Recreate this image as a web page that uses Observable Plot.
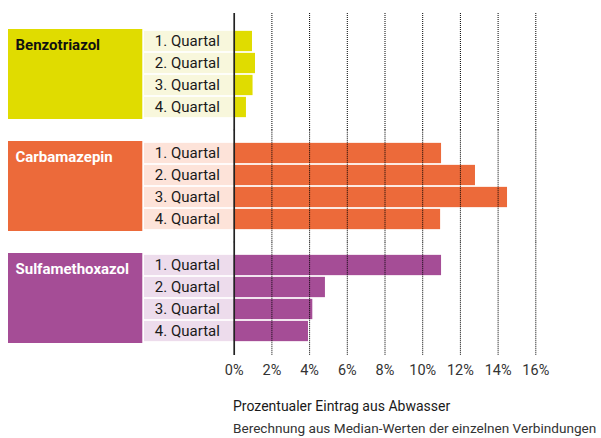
<!DOCTYPE html>
<html>
<head>
<meta charset="utf-8">
<script src="https://cdn.jsdelivr.net/npm/d3@7"></script>
<script src="https://cdn.jsdelivr.net/npm/@observablehq/plot@0.6"></script>
<style>
  html, body { margin: 0; padding: 0; background: #fff; }
  #wrap { position: relative; width: 601px; height: 438px; font-family: Roboto, "Open Sans", sans-serif; }
  #title { position: absolute; left: 233px; top: 398px; font-size: 14px; color: #1a1a1a; white-space: nowrap; }
  #subtitle { position: absolute; left: 233px; top: 420px; font-size: 13.6px; color: #333; white-space: nowrap; }
</style>
</head>
<body>
<div id="wrap">
  <div id="chart"></div>
  <div id="title">Prozentualer Eintrag aus Abwasser</div>
  <div id="subtitle">Berechnung aus Median-Werten der einzelnen Verbindungen</div>
</div>
<script>
// ---- data ----
const substances = ["Benzotriazol", "Carbamazepin", "Sulfamethoxazol"];
const quartals = ["1. Quartal", "2. Quartal", "3. Quartal", "4. Quartal"];
const benzotriazol = [0.97, 1.13, 1.0, 0.65];
const carbamazepin = [11.0, 12.8, 14.5, 10.95];
const sulfamethoxazol = [11.0, 4.84, 4.17, 3.94];
const xTicks = [0, 2, 4, 6, 8, 10, 12, 14, 16];

// ---- styles ----
const darkColors = {Benzotriazol: "#e0dc00", Carbamazepin: "#ec6a3a", Sulfamethoxazol: "#a54d96"};
const lightColors = {Benzotriazol: "#f8f7dc", Carbamazepin: "#fde3d9", Sulfamethoxazol: "#eddcec"};
const labelColors = {Benzotriazol: "#111", Carbamazepin: "#fff", Sulfamethoxazol: "#fff"};

const seriesValues = {Benzotriazol: benzotriazol, Carbamazepin: carbamazepin, Sulfamethoxazol: sulfamethoxazol};
const rows = substances.flatMap(s => quartals.map((q, i) => ({substance: s, quartal: q, value: seriesValues[s][i]})));
const groups = substances.map(s => ({substance: s}));
const gridRows = substances.flatMap(s => xTicks.map(t => ({substance: s, tick: t})));

const W = 601, H = 385;
const mLeft = 233.7, mRight = 65.7, mTop = 28, mBottom = 42;
const frameW = W - mLeft - mRight;
const labelColW = 89.7;        // quartal label column width (left of zero line)
const groupLeft = 8, groupRight = 142.3;
const halfGap = 11.25;

function gridFor(sub, top, bottom) {
  const data = gridRows.filter(d => d.substance === sub);
  return [
    Plot.ruleX(data.filter(d => d.tick > 0), {
      fy: "substance", x: "tick",
      stroke: "#000", strokeWidth: 1, strokeDasharray: "1,1",
      insetTop: -top, insetBottom: -bottom
    }),
    Plot.ruleX(data.filter(d => d.tick === 0), {
      fy: "substance", x: "tick",
      stroke: "#222", strokeWidth: 1.7,
      insetTop: -top, insetBottom: -bottom
    })
  ];
}

const chart = Plot.plot({
  width: W,
  height: H,
  marginLeft: mLeft,
  marginRight: mRight,
  marginTop: mTop,
  marginBottom: mBottom,
  style: {fontFamily: "Roboto, 'Open Sans', sans-serif", fontSize: "14px", background: "#fff", overflow: "visible"},
  x: {domain: [0, 16], label: null},
  y: {domain: quartals, padding: 0, axis: null},
  fy: {domain: substances, paddingInner: 0.2, paddingOuter: 0, axis: null, label: null},
  marks: [
    // group label boxes
    Plot.rect(groups, {
      fy: "substance",
      fill: d => darkColors[d.substance],
      insetLeft: -(mLeft - groupLeft),
      insetRight: frameW + (mLeft - groupRight)
    }),
    // quartal label backgrounds
    Plot.barX(rows, {
      fy: "substance", y: "quartal",
      x1: 0, x2: 0,
      fill: d => lightColors[d.substance],
      insetLeft: -labelColW,
      insetTop: 0.85, insetBottom: 0.85
    }),
    // value bars
    Plot.barX(rows, {
      fy: "substance", y: "quartal", x: "value",
      fill: d => darkColors[d.substance],
      insetTop: 0.85, insetBottom: 0.85
    }),
    // dotted grid + zero line, extended through the gaps between groups
    ...gridFor("Benzotriazol", 16, halfGap),
    ...gridFor("Carbamazepin", halfGap, halfGap),
    ...gridFor("Sulfamethoxazol", halfGap, 12),
    // quartal labels
    Plot.text(rows, {
      fy: "substance", y: "quartal",
      text: "quartal",
      frameAnchor: "left",
      dx: -labelColW / 2 - 2,
      textAnchor: "middle",
      fill: "#1a1a1a",
      fontSize: 15
    }),
    // substance labels
    Plot.text(groups, {
      fy: "substance",
      text: "substance",
      frameAnchor: "top-left",
      lineAnchor: "top",
      textAnchor: "start",
      dx: -(mLeft - 15),
      dy: 10,
      fill: d => labelColors[d.substance],
      fontWeight: "bold",
      fontSize: 15
    }),
    Plot.axisX({
      ticks: xTicks,
      tickFormat: d => d + "%",
      tickSize: 0,
      tickPadding: 21,
      fontSize: 14.5,
      color: "#333",
      label: null
    })
  ]
});
document.getElementById("chart").appendChild(chart);
</script>
</body>
</html>
